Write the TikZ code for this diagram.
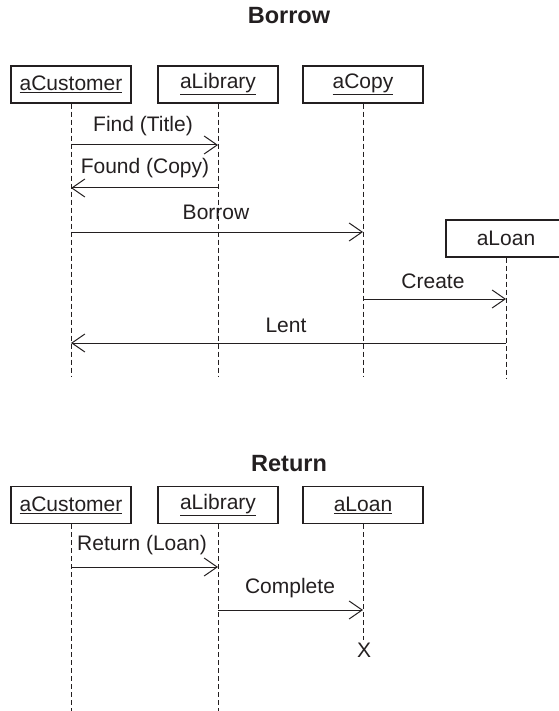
\documentclass[tikz,border=0pt]{standalone}
\usepackage{fontspec}
\setmainfont{Liberation Sans}
\usetikzlibrary{arrows.meta}
\definecolor{ink}{HTML}{231F20}
\tikzset{
  obj/.style={draw=ink, line width=1.2pt, minimum width=120pt, minimum height=37pt, inner sep=0pt, text=ink, font=\fontsize{21}{25}\selectfont},
  lifeline/.style={draw=ink, line width=1pt, dash pattern=on 5pt off 3pt},
  msg/.style={draw=ink, line width=1pt, -{Straight Barb[length=13pt,width=18pt,line width=1pt]}},
  lbl/.style={text=ink, font=\fontsize{21}{25}\selectfont, inner sep=0pt},
  ttl/.style={text=ink, font=\fontsize{23.5}{28}\selectfont\bfseries, inner sep=0pt}
}
\newcommand{\ul}[1]{\underline{#1}}
\begin{document}
\begin{tikzpicture}[x=1pt,y=-1pt]
\useasboundingbox (0,0) rectangle (558,711);
% ---------- Borrow ----------
\node[ttl] (t1) at (289,16) {Borrow};
\node[obj] (c1) at (71,84.5) {\ul{aCustomer}};
\node[obj] (l1) at (218,84.5) {\ul{aLibrary}};
\node[obj] (p1) at (363,84.5) {\ul{aCopy}};
\node[obj] (n1) at (506,238.5) {aLoan};
\coordinate (c1e) at (71,377);
\coordinate (l1e) at (218,377);
\coordinate (p1e) at (363,377);
\coordinate (n1e) at (506,379);
\draw[lifeline] (c1.south) -- (c1e);
\draw[lifeline] (l1.south) -- (l1e);
\draw[lifeline] (p1.south) -- (p1e);
\draw[lifeline] (n1.south) -- (n1e);
\coordinate (m1a) at (71,145); \coordinate (m1b) at (218,145);
\draw[msg] (m1a) -- (m1b);
\node[lbl] at (143,126) {Find (Title)};
\coordinate (m2a) at (218,188); \coordinate (m2b) at (71,188);
\draw[msg] (m2a) -- (m2b);
\node[lbl] at (145,168) {Found (Copy)};
\coordinate (m3a) at (71,232); \coordinate (m3b) at (363,232);
\draw[msg] (m3a) -- (m3b);
\node[lbl] at (216,212) {Borrow};
\coordinate (m4a) at (363,299); \coordinate (m4b) at (506,299);
\draw[msg] (m4a) -- (m4b);
\node[lbl] at (433,281) {Create};
\coordinate (m5a) at (506,343); \coordinate (m5b) at (71,343);
\draw[msg] (m5a) -- (m5b);
\node[lbl] at (286,325) {Lent};
% ---------- Return ----------
\node[ttl] (t2) at (289,464) {Return};
\node[obj] (c2) at (71,505) {\ul{aCustomer}};
\node[obj] (l2) at (218,505) {\ul{aLibrary}};
\node[obj] (n2) at (363,505) {\ul{aLoan}};
\coordinate (c2e) at (71,711);
\coordinate (l2e) at (218,711);
\coordinate (n2e) at (363,640);
\draw[lifeline] (c2.south) -- (c2e);
\draw[lifeline] (l2.south) -- (l2e);
\draw[lifeline] (n2.south) -- (n2e);
\coordinate (r1a) at (71,567); \coordinate (r1b) at (218,567);
\draw[msg] (r1a) -- (r1b);
\node[lbl] at (142,545) {Return (Loan)};
\coordinate (r2a) at (218,610); \coordinate (r2b) at (363,610);
\draw[msg] (r2a) -- (r2b);
\node[lbl] at (290,588) {Complete};
\node[lbl] (x) at (364,650) {X};
\end{tikzpicture}
\end{document}
